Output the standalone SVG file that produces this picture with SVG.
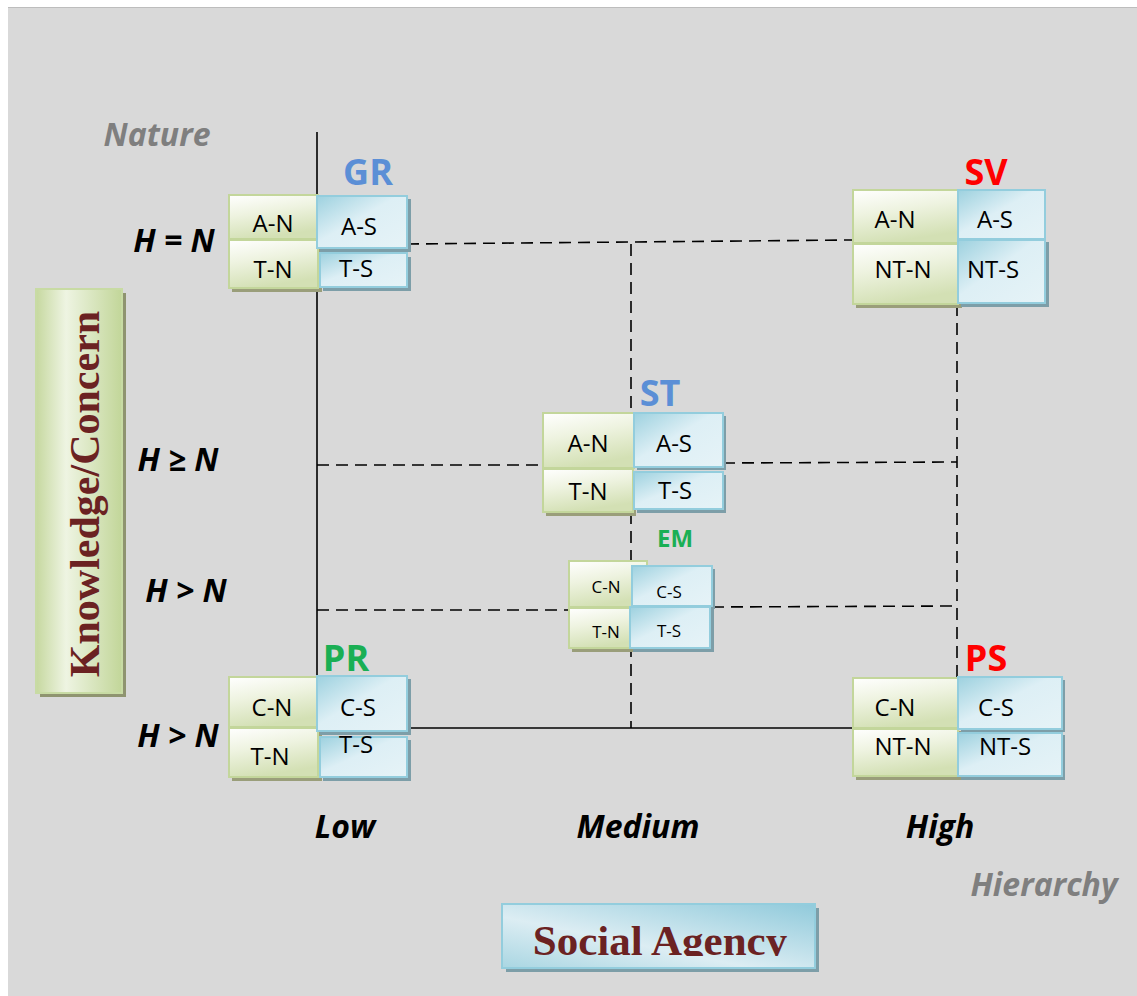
<svg xmlns="http://www.w3.org/2000/svg" width="1137" height="996" viewBox="0 0 1137 996">
<defs>
<linearGradient id="gG" x1="0" y1="0" x2="0.3" y2="1">
<stop offset="0" stop-color="#ffffff"/><stop offset="0.45" stop-color="#eef3e0"/><stop offset="1" stop-color="#d3e0b4"/>
</linearGradient>
<linearGradient id="gB" x1="0" y1="0" x2="1" y2="1">
<stop offset="0" stop-color="#9dd1df"/><stop offset="0.45" stop-color="#ddeff5"/><stop offset="1" stop-color="#e6f3f7"/>
</linearGradient>
<linearGradient id="gK" x1="0" y1="0" x2="1" y2="0">
<stop offset="0" stop-color="#c6d89f"/><stop offset="0.35" stop-color="#eef4e2"/><stop offset="1" stop-color="#c2d699"/>
</linearGradient>
<linearGradient id="gS" x1="0" y1="1" x2="1" y2="0">
<stop offset="0" stop-color="#a9d6e2"/><stop offset="0.4" stop-color="#dcedf3"/><stop offset="1" stop-color="#90cadb"/>
</linearGradient>
<clipPath id="clipSA"><rect x="500" y="900" width="320" height="56"/></clipPath>
</defs>
<style>
.g{fill:url(#gG);stroke:#c3d69b;stroke-width:2}
.b{fill:url(#gB);stroke:#93cddd;stroke-width:2}
.gs{fill:#9a9e7a}
.bs{fill:#7d9ea8}
.t{font-family:"Open Sans","Liberation Sans",sans-serif;font-size:24px;fill:#000;text-anchor:middle}
.ts{font-family:"Open Sans","Liberation Sans",sans-serif;font-size:17px;fill:#000;text-anchor:middle}
.lbl{font-family:"Open Sans","Liberation Sans",sans-serif;font-weight:bold;font-size:36px;text-anchor:middle}
.ax{font-family:"Open Sans","Liberation Sans",sans-serif;font-weight:bold;font-style:italic;font-size:32px;fill:#000;text-anchor:middle}
.gr{font-family:"Open Sans","Liberation Sans",sans-serif;font-weight:bold;font-style:italic;font-size:32px;fill:#7f7f7f;text-anchor:middle}
.solid{stroke:#000;stroke-width:1.6;fill:none}
.dash{stroke:#000;stroke-width:1.6;fill:none;stroke-dasharray:12,7}
.serif{font-family:"Liberation Serif","Times New Roman",serif;font-weight:bold;fill:#6b2222;text-anchor:middle}
</style>
<rect x="8" y="7" width="1129" height="989" fill="#d9d9d9"/>
<line x1="8" y1="7.5" x2="1137" y2="7.5" stroke="#bdbdbd" stroke-width="1"/>

<g id="connectors">
<line class="solid" x1="317" y1="132" x2="317" y2="728"/>
<line class="solid" x1="317" y1="728" x2="852" y2="728"/>
<line class="dash" x1="407" y1="244" x2="852" y2="240"/>
<line class="dash" x1="631" y1="244" x2="631" y2="413"/>
<line class="dash" x1="631" y1="512" x2="631" y2="728"/>
<line class="dash" x1="957" y1="304" x2="957" y2="677"/>
<line class="dash" x1="317" y1="465" x2="543" y2="465"/>
<line class="dash" x1="723" y1="463" x2="957" y2="462"/>
<line class="dash" x1="317" y1="610" x2="569" y2="610"/>
<line class="dash" x1="712" y1="607" x2="957" y2="606"/>
</g>

<g id="axis-labels">
<text class="gr" x="157" y="146">Nature</text>
<text class="gr" x="1044" y="896">Hierarchy</text>
<text class="ax" x="174" y="252">H = N</text>
<text class="ax" x="178" y="471">H ≥ N</text>
<text class="ax" x="186" y="602">H &gt; N</text>
<text class="ax" x="178" y="747">H &gt; N</text>
<text class="ax" x="345" y="838">Low</text>
<text class="ax" x="638" y="838">Medium</text>
<text class="ax" x="940" y="838">High</text>
</g>

<g id="knowledge">
<rect x="40" y="293" width="86" height="404" fill="#8f9470"/>
<rect x="36" y="289" width="86" height="404" fill="url(#gK)" stroke="#c8dba4" stroke-width="2"/>
<text class="serif" font-size="42" transform="translate(99,494) rotate(-90)">Knowledge/Concern</text>
</g>

<g id="social-agency">
<rect x="506" y="908" width="313" height="64" fill="#7d9ea8"/>
<rect x="502" y="904" width="313" height="64" fill="url(#gS)" stroke="#93cddd" stroke-width="2"/>
<text class="serif" font-size="43" x="660" y="955" clip-path="url(#clipSA)">Social Agency</text>
</g>

<g id="GR">
<text class="lbl" x="368" y="185" fill="#5b8fd6">GR</text>
<rect class="gs" x="232" y="242" width="90" height="50"/>
<rect class="bs" x="323" y="257" width="88" height="34"/>
<rect class="g" x="229" y="195" width="89" height="44"/>
<rect class="g" x="229" y="240" width="89" height="48"/>
<rect class="b" x="320" y="253" width="87" height="34"/>
<rect class="bs" x="320" y="199" width="91" height="53"/>
<rect class="b" x="317" y="196" width="90" height="52"/>
<text class="t" x="273" y="232">A-N</text>
<text class="t" x="273" y="278">T-N</text>
<text class="t" x="359" y="235">A-S</text>
<text class="t" x="356" y="277">T-S</text>
</g>

<g id="SV">
<text class="lbl" x="986" y="185" fill="#ff0000">SV</text>
<rect class="gs" x="856" y="246" width="106" height="62"/>
<rect class="bs" x="961" y="242" width="88" height="65"/>
<rect class="g" x="853" y="190" width="105" height="53"/>
<rect class="g" x="853" y="244" width="105" height="60"/>
<rect class="b" x="958" y="240" width="87" height="63"/>
<rect class="b" x="958" y="190" width="87" height="49"/>
<text class="t" x="895" y="228">A-N</text>
<text class="t" x="903" y="278">NT-N</text>
<text class="t" x="995" y="228">A-S</text>
<text class="t" x="993" y="278">NT-S</text>
</g>

<g id="ST">
<text class="lbl" x="660" y="406" fill="#5b8fd6">ST</text>
<rect class="gs" x="546" y="471" width="90" height="45"/>
<rect class="bs" x="637" y="475" width="89" height="38"/>
<rect class="g" x="543" y="413" width="91" height="55"/>
<rect class="g" x="543" y="469" width="90" height="43"/>
<rect class="b" x="634" y="472" width="89" height="37"/>
<rect class="bs" x="637" y="416" width="89" height="54"/>
<rect class="b" x="634" y="413" width="89" height="54"/>
<text class="t" x="588" y="452">A-N</text>
<text class="t" x="674" y="452">A-S</text>
<text class="t" x="588" y="500">T-N</text>
<text class="t" x="675" y="499">T-S</text>
</g>

<g id="EM">
<text class="lbl" x="675" y="547" fill="#1aaf54" style="font-size:24px">EM</text>
<rect class="gs" x="572" y="610" width="78" height="42"/>
<rect class="bs" x="633" y="609" width="81" height="43"/>
<rect class="g" x="569" y="561" width="78" height="46"/>
<rect class="g" x="569" y="608" width="75" height="40"/>
<rect class="bs" x="635" y="569" width="80" height="40"/>
<rect class="b" x="632" y="566" width="80" height="40"/>
<rect class="b" x="630" y="607" width="80" height="41"/>
<text class="ts" x="606" y="593">C-N</text>
<text class="ts" x="669" y="598">C-S</text>
<text class="ts" x="606" y="638">T-N</text>
<text class="ts" x="669" y="637">T-S</text>
</g>

<g id="PR">
<text class="lbl" x="346" y="671" fill="#1aaf54">PR</text>
<rect class="gs" x="232" y="730" width="90" height="51"/>
<rect class="bs" x="323" y="740" width="88" height="41"/>
<rect class="g" x="229" y="677" width="89" height="50"/>
<rect class="g" x="229" y="728" width="89" height="49"/>
<rect class="b" x="320" y="737" width="87" height="40"/>
<rect class="bs" x="320" y="679" width="91" height="56"/>
<rect class="b" x="317" y="676" width="90" height="55"/>
<text class="t" x="272" y="716">C-N</text>
<text class="t" x="270" y="765">T-N</text>
<text class="t" x="358" y="716">C-S</text>
<text class="t" x="356" y="753">T-S</text>
</g>

<g id="PS">
<text class="lbl" x="986" y="671" fill="#ff0000">PS</text>
<rect class="gs" x="856" y="731" width="106" height="49"/>
<rect class="bs" x="961" y="735" width="104" height="45"/>
<rect class="g" x="853" y="678" width="105" height="50"/>
<rect class="g" x="853" y="729" width="105" height="47"/>
<rect class="b" x="958" y="733" width="104" height="43"/>
<rect class="bs" x="961" y="680" width="104" height="52"/>
<rect class="b" x="958" y="677" width="104" height="52"/>
<text class="t" x="895" y="716">C-N</text>
<text class="t" x="903" y="755">NT-N</text>
<text class="t" x="996" y="716">C-S</text>
<text class="t" x="1005" y="755">NT-S</text>
</g>
</svg>
